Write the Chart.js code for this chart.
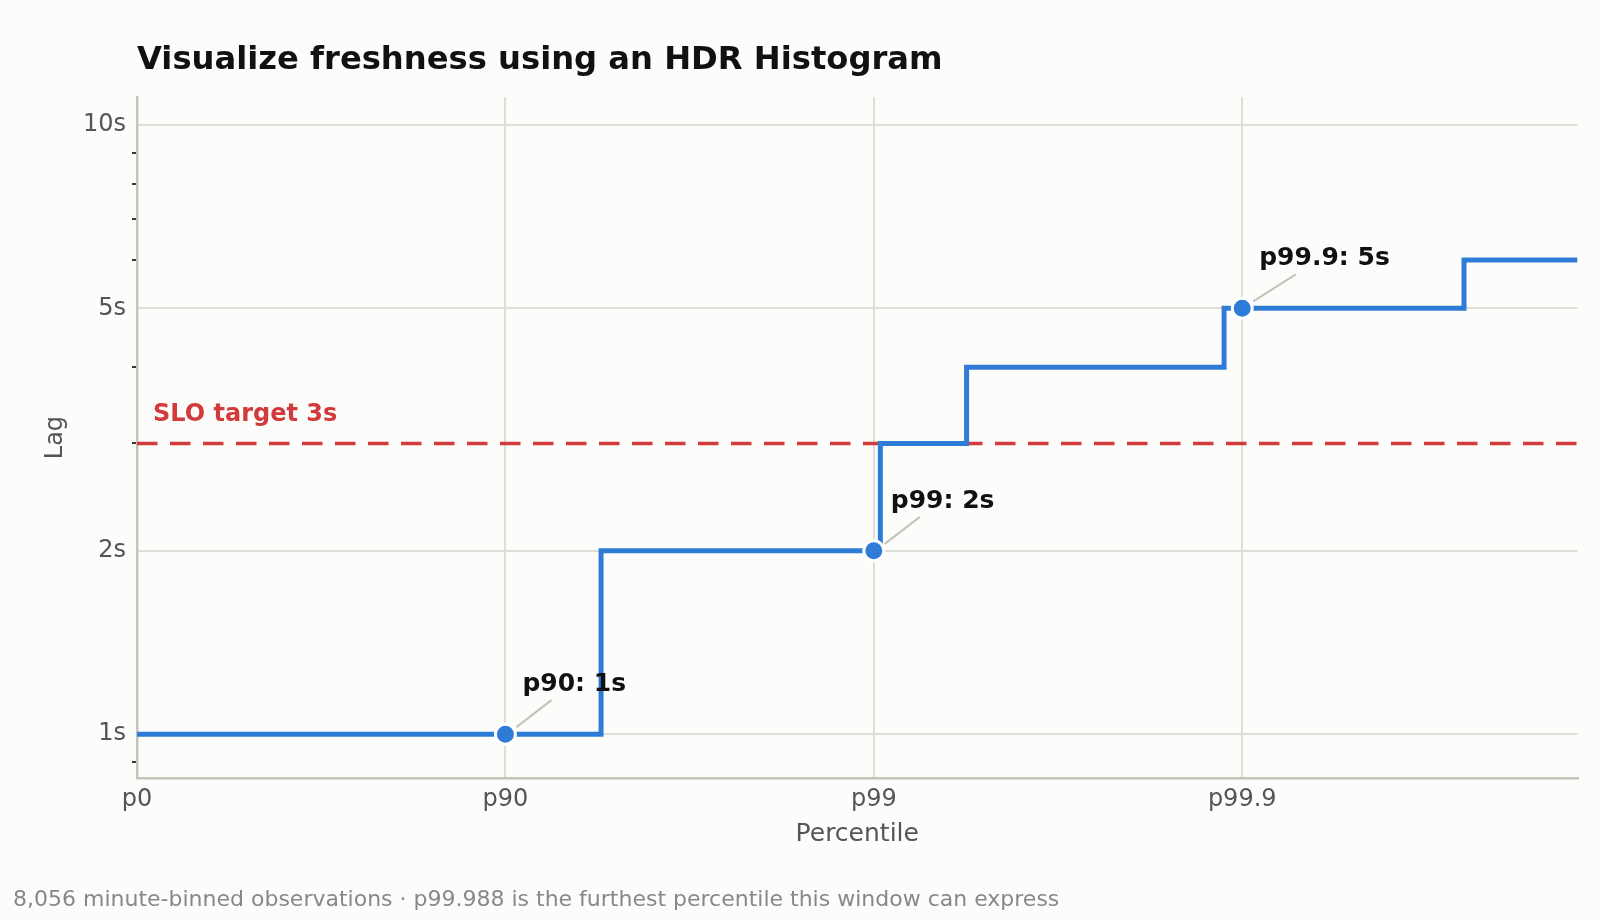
<!DOCTYPE html>
<html>
<head>
<meta charset="utf-8">
<title>Visualize freshness using an HDR Histogram</title>
<script src="https://cdn.jsdelivr.net/npm/chart.js@4.4.1/dist/chart.umd.min.js"></script>
<style>
    html, body { margin: 0; padding: 0; background: #fcfcfa; }
    #wrap { width: 1600px; height: 920px; }
</style>
</head>
<body>
<div id="wrap"><canvas id="freshnessChart" width="1600" height="920"></canvas></div>
<script>
// ============================================
// FRESHNESS HDR HISTOGRAM
// Step line of lag per percentile, log/log-nines axes
// ============================================

// lag steps: each level holds from its percentile until the next one
const stepPercentiles = [0, 94.5, 99.04, 99.44, 99.888, 99.975, 99.9877];
const stepLagSeconds = [1, 2, 3, 4, 5, 6, 6];

const markerPercentiles = [90, 99, 99.9];
const markerLagSeconds = [1, 2, 5];
const markerLabels = ['p90: 1s', 'p99: 2s', 'p99.9: 5s'];

const sloTargetSeconds = 3;
const sloLabel = 'SLO target 3s';

const xTickPercentiles = [0, 90, 99, 99.9];
const xTickLabels = ['p0', 'p90', 'p99', 'p99.9'];
const axisMaxPercentile = 99.9877;

const yMajorTicks = [1, 2, 5, 10];
const yTickLabels = ['1s', '2s', '5s', '10s'];
const yMinorTicks = [0.9, 3, 4, 6, 7, 8, 9];
const yMin = 0.848;
const yMax = 11.1;

const titleText = 'Visualize freshness using an HDR Histogram';
const footerText = '8,056 minute-binned observations \u00b7 p99.988 is the furthest percentile this window can express';

const BLUE = '#2f7bd8';
const RED = '#d13b3b';
const GRID = '#deded6';
const AXIS = '#c4c4b9';
const BG = '#fcfcfa';
const FONT = "'DejaVu Sans', 'Liberation Sans', sans-serif";

// percentile -> number of nines, so p90/p99/p99.9 sit evenly apart
function nines(p) {
    return -Math.log10(1 - p / 100);
}

const decorPlugin = {
    id: 'decor',
    beforeDraw(chart) {
        const ctx = chart.ctx;
        ctx.save();
        ctx.fillStyle = BG;
        ctx.fillRect(0, 0, chart.width, chart.height);
        ctx.restore();
    },
    afterDatasetsDraw(chart) {
        const ctx = chart.ctx;
        const x = chart.scales.x;
        const y = chart.scales.y;
        ctx.save();

        // SLO label above the dashed line
        ctx.font = `bold 24px ${FONT}`;
        ctx.fillStyle = RED;
        ctx.textBaseline = 'alphabetic';
        ctx.fillText(sloLabel, chart.chartArea.left + 16, y.getPixelForValue(sloTargetSeconds) - 22);

        // percentile callouts
        ctx.font = `bold 25px ${FONT}`;
        markerPercentiles.forEach((p, i) => {
            const px = x.getPixelForValue(nines(p));
            const py = y.getPixelForValue(markerLagSeconds[i]);
            const w = ctx.measureText(markerLabels[i]).width;
            ctx.strokeStyle = AXIS;
            ctx.lineWidth = 2.2;
            ctx.beginPath();
            ctx.moveTo(px + 11, py - 7);
            ctx.lineTo(px + 17 + w * 0.28, py - 34);
            ctx.stroke();
            ctx.fillStyle = '#111111';
            ctx.fillText(markerLabels[i], px + 17, py - 43);
        });
        ctx.restore();
    },
    afterDraw(chart) {
        const ctx = chart.ctx;
        ctx.save();
        ctx.textBaseline = 'alphabetic';
        ctx.fillStyle = '#111111';
        ctx.font = `bold 32.2px ${FONT}`;
        ctx.fillText(titleText, chart.chartArea.left, 69);
        ctx.fillStyle = '#888888';
        ctx.font = `22px ${FONT}`;
        ctx.fillText(footerText, 13, 906);
        ctx.restore();
    }
};

const stepData = stepPercentiles.map((p, i) => ({ x: nines(p), y: stepLagSeconds[i] }));
const markerData = markerPercentiles.map((p, i) => ({ x: nines(p), y: markerLagSeconds[i] }));
const sloData = [
    { x: 0, y: sloTargetSeconds },
    { x: nines(axisMaxPercentile), y: sloTargetSeconds }
];

Chart.defaults.font.family = FONT;

const ctx = document.getElementById('freshnessChart').getContext('2d');
const freshnessChart = new Chart(ctx, {
    type: 'line',
    data: {
        datasets: [
            {
                label: 'Percentile markers',
                data: markerData,
                showLine: false,
                pointRadius: 10,
                pointBorderWidth: 3,
                pointBackgroundColor: BLUE,
                pointBorderColor: '#ffffff',
                clip: false
            },
            {
                label: 'Lag',
                data: stepData,
                stepped: 'before',
                borderColor: BLUE,
                borderWidth: 5,
                pointRadius: 0,
                fill: false
            },
            {
                label: 'SLO target',
                data: sloData,
                borderColor: RED,
                borderWidth: 3.5,
                borderDash: [20.5, 12.5],
                pointRadius: 0,
                fill: false
            }
        ]
    },
    plugins: [decorPlugin],
    options: {
        responsive: false,
        animation: false,
        devicePixelRatio: 1,
        layout: { padding: { top: 97.3, right: 22.5, bottom: 62.2, left: 0 } },
        plugins: {
            legend: { display: false },
            tooltip: { enabled: false }
        },
        scales: {
            x: {
                type: 'linear',
                min: 0,
                max: nines(axisMaxPercentile),
                afterBuildTicks: (scale) => {
                    scale.ticks = xTickPercentiles.map(p => ({ value: nines(p) }));
                },
                afterFit: (scale) => { scale.height = 80; },
                ticks: {
                    autoSkip: false,
                    maxRotation: 0,
                    padding: 8,
                    color: '#555555',
                    font: { size: 24 },
                    callback: (value, index) => xTickLabels[index]
                },
                grid: { color: GRID, lineWidth: 2, drawTicks: false },
                border: { color: AXIS, width: 2.5 },
                title: {
                    display: true,
                    text: 'Percentile',
                    color: '#555555',
                    font: { size: 25 },
                    padding: { top: 0, bottom: 8 }
                }
            },
            y: {
                type: 'logarithmic',
                min: yMin,
                max: yMax,
                afterBuildTicks: (scale) => {
                    scale.ticks = [...yMinorTicks, ...yMajorTicks]
                        .sort((a, b) => a - b)
                        .map(v => ({ value: v }));
                },
                afterFit: (scale) => { scale.width = 137; },
                ticks: {
                    autoSkip: false,
                    padding: 6,
                    color: '#555555',
                    font: { size: 24 },
                    callback: (value) => {
                        const i = yMajorTicks.indexOf(value);
                        return i >= 0 ? yTickLabels[i] : '';
                    }
                },
                grid: {
                    lineWidth: 2,
                    tickLength: 5,
                    tickWidth: 1.8,
                    color: (c) => (c.tick && yMajorTicks.includes(c.tick.value)) ? GRID : 'rgba(0,0,0,0)',
                    tickColor: (c) => (c.tick && yMinorTicks.includes(c.tick.value)) ? '#222222' : 'rgba(0,0,0,0)'
                },
                border: { color: AXIS, width: 2.5 },
                title: {
                    display: true,
                    text: 'Lag',
                    color: '#555555',
                    font: { size: 24 },
                    padding: { top: 41.6, bottom: 0 }
                }
            }
        }
    }
});
</script>
</body>
</html>
